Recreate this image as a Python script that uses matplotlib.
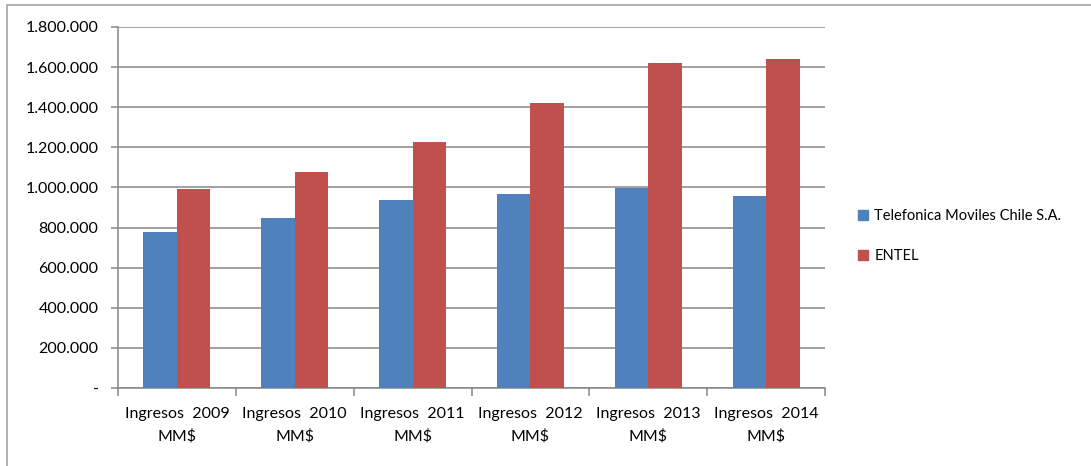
import numpy as np
import matplotlib.pyplot as plt
from matplotlib.patches import Rectangle, Patch
from matplotlib.ticker import FuncFormatter, FixedLocator

# data
years = ['2009', '2010', '2011', '2012', '2013', '2014']
telefonica = [778000, 848000, 937000, 967000, 997000, 957000]
entel = [992000, 1077000, 1229000, 1419000, 1622000, 1642000]
series_names = ['Telefonica Moviles Chile S.A.', 'ENTEL']
labels = ['Ingresos  {}\nMM$'.format(y) for y in years]

plt.rcParams['font.family'] = ['Lato', 'DejaVu Sans']
blue, red, gray = '#4F81BD', '#C0504D', '#868686'

fig = plt.figure(figsize=(10.91, 4.66), dpi=100)
ax = fig.add_axes([118/1091, 1 - 388/466, (825-118)/1091, (388-27)/466])

# outer chart frame
fig.patches.append(Rectangle((7/1091, -0.1), 1.2, 1 - 5/466 + 0.1, transform=fig.transFigure,
                             fill=False, edgecolor='#a6a6a6', lw=1.2))

x = np.arange(len(years))
w = 0.285
ax.bar(x - w/2, telefonica, w, color=blue, zorder=3)
ax.bar(x + w/2, entel, w, color=red, zorder=3)

ax.set_xlim(-0.5, len(years) - 0.5)
ax.set_ylim(0, 1800000)
ax.set_yticks(np.arange(0, 1800001, 200000))
ax.yaxis.set_major_formatter(FuncFormatter(
    lambda v, p: '-' if v == 0 else '{:,.0f}'.format(v).replace(',', '.')))
ax.yaxis.grid(True, color=gray, lw=1.1, zorder=0)

ax.set_xticks(x)
ax.set_xticklabels(labels, fontsize=11.5, linespacing=1.65)
ax.tick_params(axis='x', length=0, pad=14)
ax.xaxis.set_minor_locator(FixedLocator(np.arange(-0.5, len(years), 1)))
ax.tick_params(axis='x', which='minor', length=6, color=gray, width=1.1)
ax.tick_params(axis='y', length=5, color=gray, width=1.1, labelsize=11.5, pad=9)

for s in ['top', 'right']:
    ax.spines[s].set_visible(False)
for s in ['left', 'bottom']:
    ax.spines[s].set_color(gray)
    ax.spines[s].set_linewidth(1.1)

handles = [Patch(color=blue), Patch(color=red)]
fig.legend(handles, series_names, loc='center left', bbox_to_anchor=(845/1091, 1 - 236/466),
           frameon=False, fontsize=10.5, handlelength=0.7, handleheight=0.7,
           handletextpad=0.4, labelspacing=1.8)

fig.savefig('out.png', dpi=100)
